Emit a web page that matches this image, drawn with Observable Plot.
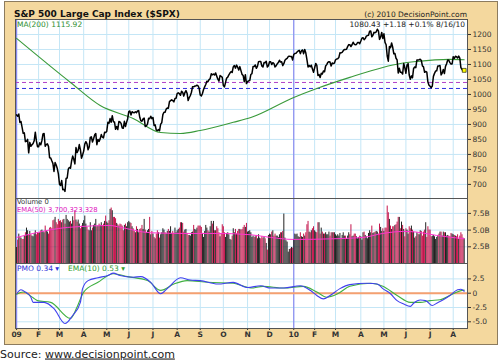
<!DOCTYPE html>
<html><head><meta charset="utf-8">
<script src="https://cdn.jsdelivr.net/npm/d3@7"></script>
<script src="https://cdn.jsdelivr.net/npm/@observablehq/plot@0.6"></script>
<style>
body{margin:0;background:#fff;}
#wrap{position:relative;width:500px;height:360px;font-family:"DejaVu Sans",Verdana,sans-serif;overflow:hidden;}
#box{position:absolute;left:4px;top:1px;width:492px;height:342px;background:#f4d89e;border:1px solid #8c7b5e;}
.p{position:absolute;left:0;}
#ov{position:absolute;left:0;top:0;pointer-events:none;}
#pmo g[aria-label="x-axis tick label"] text{font-weight:bold;}
</style></head><body>
<div id="wrap">
<div id="box"></div>
<div class="p" id="price" style="top:19px"></div>
<div class="p" id="vol" style="top:198px"></div>
<div class="p" id="pmo" style="top:263px"></div>
<svg id="ov" width="500" height="360" font-family="DejaVu Sans, Verdana, sans-serif">
<text x="14" y="17" font-size="9" font-weight="bold" fill="#111">S&amp;P 500 Large Cap Index ($SPX)</text>
<text x="467" y="16.5" font-size="7.5" fill="#222" text-anchor="end">(c) 2010 DecisionPoint.com</text>
<text x="465" y="26.5" font-size="7.5" fill="#222" text-anchor="end">1080.43  +1.18  +0.1%  8/16/10</text>
<text x="17" y="26.5" font-size="7.5" fill="#2f8f2f">MA(200) 1115.92</text>
<text x="17" y="204" font-size="6.8" fill="#333">Volume 0</text>
<text x="17" y="212" font-size="6.8" fill="#e020c0">EMA(50) 3,700,323,328</text>
<text x="17" y="270.5" font-size="7.5" fill="#3030d8">PMO 0.34 ▾</text>
<text x="68" y="270.5" font-size="7.5" fill="#30a030">EMA(10) 0.53 ▾</text>
<text x="0" y="357.5" font-size="11" fill="#222">Source: <tspan text-decoration="underline">www.decisionpoint.com</tspan></text>
</svg>
</div>
<script>
// ---- data ----
const monthLabels = ["09","F","M","A","M","J","J","A","S","O","N","D","10","F","M","A","M","J","J","A"];
const monthStart = [0,20,39,61,82,102,124,146,167,188,210,230,252,271,290,313,334,354,376,397];
const yearStart = [0,252];

const close2009 = [
931.8,927.5,934.7,906.7,909.7,890.4,870.3,871.8,842.6,843.7,850.1,805.2,840.2,827.5,832.0,836.6,845.7,874.1,845.1,825.9,
825.4,838.5,832.2,845.9,868.6,869.9,827.2,833.7,835.2,826.8,789.2,788.4,778.9,770.1,743.3,773.1,764.9,752.8,735.1,
700.8,696.3,712.9,682.6,683.4,676.5,719.6,721.4,750.7,756.6,753.9,778.1,794.4,784.0,768.5,822.9,806.1,813.9,832.9,815.9,787.5,797.9,
811.1,834.4,842.5,835.5,815.6,825.2,856.6,858.7,841.5,852.1,865.3,869.6,832.4,850.1,843.6,851.9,866.2,857.5,855.2,873.6,872.8,
877.5,907.2,903.8,919.5,907.4,929.2,909.2,908.4,883.9,893.1,882.9,909.7,908.1,903.5,888.3,887.0,910.3,893.1,906.8,919.1,
942.9,944.7,931.8,942.5,940.1,939.1,942.4,939.2,944.9,946.2,923.7,912.0,910.7,918.4,921.2,893.0,895.1,900.9,920.3,918.9,927.2,919.3,
923.3,896.4,898.7,881.0,879.6,882.7,879.1,901.1,905.8,932.7,940.7,940.4,951.1,954.6,954.1,976.3,979.3,982.2,979.6,975.2,986.8,987.5,
1002.6,1005.7,1002.7,997.1,1010.5,1007.1,994.4,1005.8,1012.7,1004.1,979.7,989.7,996.5,1007.4,1026.1,1025.6,1028.0,1028.1,1031.0,1028.9,1020.6,
998.0,994.8,1003.2,1016.4,1025.4,1033.4,1044.1,1042.7,1049.3,1052.6,1068.8,1065.5,1068.3,1064.7,1071.7,1060.9,1050.8,1044.4,1063.0,1060.6,1057.1,
1029.9,1025.2,1040.5,1054.7,1057.6,1065.5,1071.5,1076.2,1073.2,1092.0,1096.6,1087.7,1097.9,1091.1,1081.4,1092.9,1079.6,1067.0,1063.4,1042.6,1066.1,1036.2,
1042.9,1045.4,1046.5,1066.6,1069.3,1093.1,1093.0,1098.5,1087.2,1093.5,1109.3,1110.3,1109.8,1094.9,1091.4,1106.2,1105.7,1110.6,1091.5,1095.6,
1108.9,1109.2,1099.9,1106.0,1103.3,1091.9,1096.0,1102.4,1106.4,1114.1,1107.9,1109.2,1096.1,1102.5,1114.1,1118.0,1120.6,1126.5,1127.8,1126.2,1126.4,1115.1
];
const close2010 = [
1133.0,1136.5,1137.1,1141.7,1145.0,1147.0,1136.2,1145.7,1148.5,1136.0,1150.2,1138.0,1116.5,1091.8,1096.8,1092.2,1097.5,1084.5,1073.9,
1089.2,1103.3,1097.3,1063.1,1066.2,1056.7,1070.5,1068.1,1078.5,1075.5,1094.9,1099.5,1106.8,1109.2,1108.0,1094.6,1105.2,1102.9,1104.5,
1115.7,1118.3,1118.8,1123.0,1138.7,1138.5,1140.4,1145.6,1150.2,1150.0,1150.5,1159.5,1166.2,1165.8,1159.9,1165.8,1174.2,1167.7,1165.7,1166.6,1173.2,1173.3,1169.4,
1178.1,1187.4,1189.4,1182.5,1186.4,1194.4,1196.5,1197.3,1210.7,1211.7,1192.1,1197.5,1207.2,1205.9,1208.7,1217.3,1212.1,1183.7,1191.4,1206.8,1186.7,
1202.3,1173.6,1165.9,1128.2,1110.9,1159.7,1155.8,1171.7,1157.4,1135.7,1136.9,1120.8,1115.1,1071.6,1087.7,1073.7,1074.0,1068.0,1103.1,1089.4,
1070.7,1098.4,1102.8,1064.9,1050.5,1062.0,1055.7,1086.8,1091.6,1089.6,1115.2,1114.6,1116.0,1117.5,1113.2,1095.3,1092.0,1073.7,1076.8,1074.6,1041.2,1030.7,
1027.4,1022.6,1028.1,1060.3,1070.3,1078.0,1078.8,1095.3,1095.2,1096.5,1064.9,1071.3,1083.5,1069.6,1093.7,1102.7,1115.0,1113.8,1106.1,1101.5,1101.6,
1125.9,1120.5,1127.2,1125.8,1121.6,1127.8,1121.1,1089.5,1083.6,1079.3,1080.4
];
// volume, billions
const vol2009 = [
2.4,3.5,4.4,3.9,3.8,3.6,3.6,4.1,4.6,5.3,4.9,4.2,4.8,4.3,4.1,4.0,4.5,4.9,4.3,4.6,
4.5,4.6,4.9,5.0,4.8,4.6,5.6,4.9,4.7,4.4,5.3,5.4,5.2,6.4,6.5,6.9,6.1,5.8,6.6,
6.3,6.4,6.1,6.5,6.6,5.9,7.2,6.6,6.4,6.2,6.3,5.9,7.0,6.4,7.9,6.5,6.2,6.5,5.9,5.2,5.6,6.0,
6.4,7.1,5.9,5.4,5.0,4.9,6.1,4.9,5.3,5.7,5.9,6.6,5.5,5.6,5.9,5.7,6.1,5.6,5.9,6.3,7.1,
6.2,6.0,6.4,8.1,8.3,7.9,6.9,6.9,6.7,6.0,5.8,5.6,5.9,5.8,5.6,4.9,5.7,5.9,5.5,6.1,
6.3,6.1,6.0,5.5,5.2,4.8,4.6,5.5,5.1,4.6,5.1,5.2,5.7,5.1,6.6,5.0,4.6,4.9,5.1,6.9,4.3,4.8,
4.4,3.9,3.7,4.4,4.9,4.6,3.8,4.3,4.6,5.2,5.0,4.6,4.4,4.8,5.1,4.8,5.5,4.5,4.8,4.5,5.3,4.6,
4.9,5.1,5.3,6.1,6.1,6.0,4.7,5.0,5.1,4.5,4.2,4.2,4.1,4.6,4.7,5.7,5.1,5.0,5.3,5.6,5.6,
5.6,5.4,4.5,3.9,4.8,5.7,5.3,4.9,4.7,5.5,6.3,5.9,6.3,4.9,4.9,5.5,5.2,4.6,4.0,4.5,5.8,
5.5,4.6,3.9,4.5,4.6,4.3,3.6,3.5,4.1,5.2,4.6,5.1,4.4,4.8,5.1,5.1,5.0,5.1,5.4,5.7,5.4,6.0,
4.7,4.8,4.9,4.6,3.9,4.1,3.9,4.0,4.2,3.7,4.3,3.8,3.7,4.0,3.8,3.9,3.7,3.0,2.0,4.2,
4.4,4.3,4.7,4.9,4.1,4.4,4.1,4.1,3.9,4.3,4.6,4.6,4.8,7.4,3.8,3.4,3.2,1.7,2.1,2.2,2.4,2.3
];
const vol2010 = [
3.6,4.4,4.3,4.4,4.0,3.9,4.6,4.0,3.9,4.4,4.1,4.6,5.8,6.3,4.7,4.6,4.9,5.2,5.5,
4.9,4.7,4.6,6.1,6.1,4.4,5.3,4.7,4.4,4.4,4.6,4.3,4.3,4.7,4.1,4.6,4.6,4.6,4.6,
4.3,4.1,4.3,4.1,4.5,3.7,4.2,4.6,4.1,4.1,3.6,4.1,4.6,4.3,5.8,4.0,4.1,4.4,4.4,4.0,3.7,3.9,4.1,
4.0,3.5,4.6,4.7,4.2,4.0,3.7,4.5,4.9,4.6,5.6,4.5,4.6,4.7,4.8,4.7,4.4,5.9,5.4,4.8,5.2,
4.8,5.3,5.3,8.6,7.6,6.6,5.6,5.1,5.5,5.5,5.7,5.8,6.2,6.9,6.9,5.2,6.2,5.7,5.1,4.0,
5.2,5.0,4.4,5.5,5.2,5.6,5.0,4.7,3.8,4.0,4.6,4.4,4.3,4.9,4.8,4.1,4.7,5.0,6.1,3.9,5.5,5.0,
5.0,4.0,4.1,4.2,4.0,3.6,3.9,4.2,4.4,4.7,4.7,4.1,4.7,4.6,4.6,4.1,4.2,4.1,4.0,4.5,4.4,
4.3,4.2,4.1,4.0,4.3,3.6,4.1,4.6,4.3,3.8,3.7
];
// MA(200) read at points (trading-day index, value)
const maIdx = [0,49,76,106,131,149,167,197,213,252,273,303,333,349,364,394,407];
const maVal = [1187,1040,963,920,873,870,880,907,923,990,1020,1057,1090,1103,1110,1117,1116];
// Volume EMA(50), billions
const vemaIdx = [0,15,46,55,85,92,122,152,183,213,231,252,288,315,333,352,364,382,407];
const vemaVal = [3.9,4.5,5.4,5.5,5.7,5.5,4.6,4.5,4.5,4.3,3.9,3.6,3.7,3.9,4.5,4.8,4.7,4.2,3.7];
// PMO and its EMA(10)
const pmoIdx = [0,4,8,13,15,25,34,44,51,58,60,65,74,83,88,94,106,113,122,131,137,149,158,167,183,197,210,222,231,243,258,267,273,279,285,294,303,319,328,333,340,346,352,358,361,367,372,378,382,388,394,401,404,407];
const pmoVal = [-0.1,0.6,0.2,-0.7,-1.6,-1.6,-2.7,-5.3,-3.9,-1.6,0.8,2.2,2.7,3.1,3.5,3.1,2.8,2.9,1.9,-0.1,0.8,2.7,2.3,2.2,1.6,1.9,1.0,1.3,0.9,0.9,1.3,0.5,-0.4,-1.0,-0.4,0.8,1.5,1.75,1.6,0.8,-0.1,-1.3,-1.9,-2.3,-1.75,-1.2,-1.3,-2.15,-1.75,-1.15,-0.4,0.6,0.7,0.34];
const emaIdx = [0,6,15,19,31,49,55,61,74,88,101,119,131,143,155,174,197,213,224,243,261,273,282,292,303,322,333,346,358,367,376,385,397,405,407];
const emaVal = [-0.2,0.2,-0.8,-1.3,-1.6,-4.4,-2.4,0.2,1.9,3.4,2.9,2.2,0.5,1.6,2.2,1.9,1.75,0.9,1.2,0.9,1.2,0.2,-0.7,-0.1,1.2,1.75,1.2,-0.4,-1.6,-1.6,-1.3,-1.15,-0.1,0.5,0.53];

const priceTicks = [700,750,800,850,900,950,1000,1050,1100,1150,1200];
const volTicks = [2.5,5,7.5];
const pmoTicks = [2.5,0,-2.5,-5];

// ---- build tables ----
const closes = close2009.concat(close2010);
const vols = vol2009.concat(vol2010);
const priceData = closes.map((c,i)=>({i,c}));
const volData = vols.map((v,i)=>({i,v,up: i===0 || closes[i]>=closes[i-1]}));
const pairs = (a,b)=>a.map((x,k)=>({i:x,v:b[k]}));
const maData = pairs(maIdx,maVal), vemaData = pairs(vemaIdx,vemaVal);
const pmoData = pairs(pmoIdx,pmoVal), emaData = pairs(emaIdx,emaVal);
const labelOf = new Map(monthStart.map((m,k)=>[m,monthLabels[k]]));

const GRID = "#c4e6f6";
const common = {
  width:500, marginLeft:15, marginRight:33, marginTop:0,
  style:{background:"none", fontFamily:"DejaVu Sans, Verdana, sans-serif", fontSize:"7.5px", color:"#333", overflow:"visible"}
};
const xs = {type:"linear", domain:[-1,410]};

document.getElementById("price").append(Plot.plot({
  ...common, height:179, marginBottom:0,
  x:{...xs, axis:null},
  y:{domain:[653,1250], axis:"right", ticks:priceTicks, tickSize:3, tickPadding:2, label:null, tickFormat:d=>String(d)},
  marks:[
    Plot.frame({fill:"white"}),
    Plot.gridX(monthStart,{stroke:GRID, strokeOpacity:1}),
    Plot.gridY(priceTicks,{stroke:GRID, strokeOpacity:1}),
    Plot.ruleX(yearStart,{stroke:"#8c8cf0", strokeWidth:1.2}),
    Plot.ruleY([1040],{stroke:"#b040c8", strokeDasharray:"4,3"}),
    Plot.ruleY([1020],{stroke:"#3030e0", strokeDasharray:"4,3"}),
    Plot.line(maData,{x:"i", y:"v", stroke:"#3a9a3a", strokeWidth:1.1, curve:"monotone-x"}),
    Plot.line(priceData,{x:"i", y:"c", stroke:"#000", strokeWidth:1.5}),
    Plot.dot(priceData.slice(-1),{x:"i", y:"c", symbol:"square", r:2.2, fill:"#ffff00", stroke:"#000", strokeWidth:0.6}),
    Plot.frame({stroke:"#555"})
  ]
}));

document.getElementById("vol").append(Plot.plot({
  ...common, height:65, marginBottom:0,
  x:{...xs, axis:null},
  y:{domain:[0,9.73], axis:"right", ticks:volTicks, tickSize:3, tickPadding:2, label:null, tickFormat:d=>d.toFixed(1)+"B"},
  marks:[
    Plot.frame({fill:"white"}),
    Plot.gridX(monthStart,{stroke:GRID, strokeOpacity:1}),
    Plot.gridY(volTicks,{stroke:GRID, strokeOpacity:1}),
    Plot.ruleX(yearStart,{stroke:"#8c8cf0", strokeWidth:1.2}),
    Plot.ruleX(volData,{x:"i", y1:0, y2:"v", stroke:d=>d.up?"#222":"#c4144c", strokeWidth:1}),
    Plot.line(vemaData,{x:"i", y:"v", stroke:"#ff33d0", strokeWidth:1, curve:"monotone-x"}),
    Plot.frame({stroke:"#555"})
  ]
}));

document.getElementById("pmo").append(Plot.plot({
  ...common, height:79, marginBottom:14,
  x:{...xs, axis:"bottom", ticks:monthStart, tickSize:2, tickPadding:1.5, label:null, tickFormat:d=>labelOf.get(d)},
  y:{domain:[-6.17,5.19], axis:"right", ticks:pmoTicks, tickSize:3, tickPadding:2, label:null, tickFormat:d=>d===0?"0":d.toFixed(1)},
  marks:[
    Plot.frame({fill:"white"}),
    Plot.gridX(monthStart,{stroke:GRID, strokeOpacity:1}),
    Plot.gridY(pmoTicks,{stroke:GRID, strokeOpacity:1}),
    Plot.ruleX(yearStart,{stroke:"#8c8cf0", strokeWidth:1.2}),
    Plot.ruleY([0],{stroke:"#f5a070", strokeWidth:2}),
    Plot.line(emaData,{x:"i", y:"v", stroke:"#40b040", strokeWidth:1.1, curve:"monotone-x"}),
    Plot.line(pmoData,{x:"i", y:"v", stroke:"#4040ee", strokeWidth:1.1, curve:"monotone-x"}),
    Plot.frame({stroke:"#555"})
  ]
}));
</script>
</body></html>
